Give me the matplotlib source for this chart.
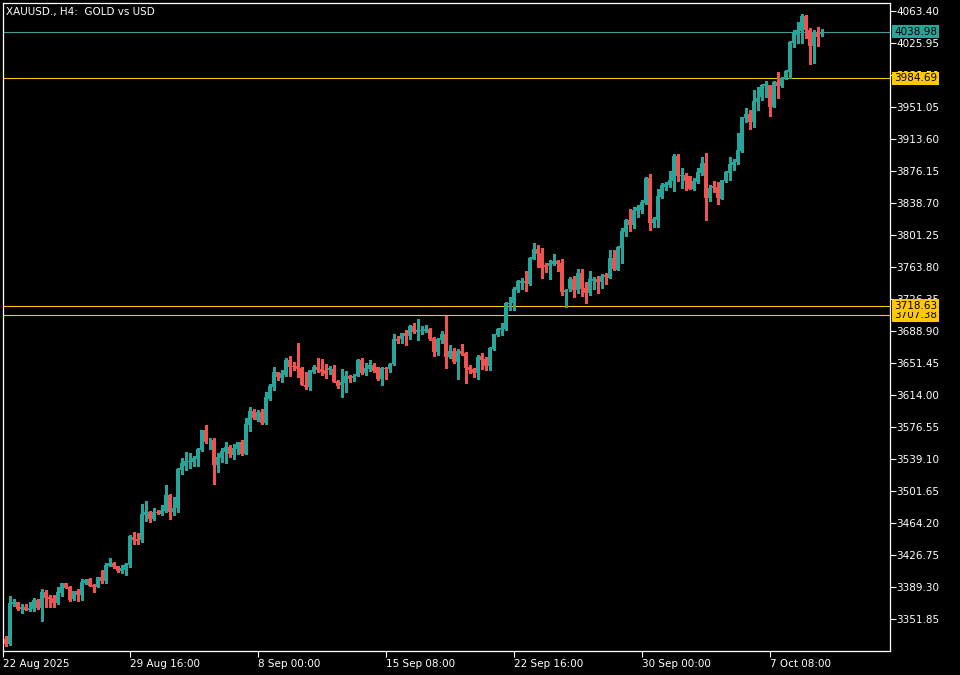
import matplotlib
matplotlib.use("Agg")
import matplotlib.pyplot as plt
import matplotlib.transforms as mtransforms
import numpy as np

BG = "#000000"
FG = "#ffffff"
BULL = "#26a69a"
BEAR = "#ef5350"
GOLD = "#ffc800"
BID_LINE = "#3f9d96"

# XAUUSD H4 candles, 22 Aug 2025 12:00 -> 9 Oct 2025
opens = [
    3328.5, 3322.6, 3369.1, 3371.4, 3364.0, 3366.3, 3362.4, 3363.6, 3374.5, 3365.2,
    3383.9, 3377.6, 3376.5, 3370.6, 3381.9, 3393.6, 3389.7, 3374.9, 3385.0, 3380.0,
    3394.0, 3398.7, 3391.3, 3389.3, 3401.0, 3396.4, 3414.3, 3417.8, 3413.9, 3408.5,
    3409.2, 3415.1, 3448.2, 3445.5, 3444.0, 3473.6, 3477.1, 3468.9, 3477.5, 3474.8,
    3478.3, 3497.4, 3477.5, 3481.8, 3526.7, 3530.9, 3536.0, 3535.6, 3539.1, 3549.7,
    3573.1, 3561.0, 3561.4, 3532.1, 3540.3, 3547.3, 3553.2, 3544.2, 3551.2, 3559.0,
    3545.0, 3578.9, 3594.9, 3584.8, 3594.2, 3580.9, 3609.0, 3623.8, 3641.0, 3634.3,
    3637.4, 3655.0, 3648.0, 3648.0, 3646.0, 3626.1, 3623.0, 3641.3, 3647.2, 3644.1,
    3643.3, 3643.3, 3644.1, 3630.4, 3625.7, 3628.5, 3636.6, 3633.5, 3636.3, 3655.0,
    3639.4, 3644.5, 3649.1, 3646.4, 3632.7, 3646.0, 3644.5, 3649.9, 3680.0, 3679.5,
    3686.6, 3683.4, 3694.8, 3688.1, 3688.9, 3688.9, 3691.2, 3680.7, 3664.3, 3678.4,
    3685.4, 3658.9, 3665.9, 3653.0, 3665.9, 3663.2, 3647.2, 3644.4, 3640.1, 3659.6,
    3656.1, 3647.9, 3667.8, 3684.6, 3690.1, 3691.2, 3720.1, 3722.1, 3737.3, 3745.5,
    3747.9, 3744.0, 3773.2, 3784.9, 3780.6, 3766.2, 3765.0, 3767.0, 3770.9, 3768.9,
    3734.2, 3738.1, 3749.8, 3737.0, 3756.5, 3739.7, 3733.1, 3747.5, 3749.4, 3746.7,
    3754.5, 3751.4, 3774.8, 3760.4, 3786.5, 3805.2, 3818.9, 3813.0, 3829.8, 3830.6,
    3838.4, 3867.6, 3815.7, 3818.9, 3846.2, 3857.1, 3859.8, 3864.9, 3893.7, 3870.3,
    3871.5, 3870.3, 3855.1, 3863.7, 3874.2, 3885.9, 3845.0, 3859.0, 3857.9, 3843.4,
    3864.9, 3874.2, 3883.2, 3887.1, 3900.0, 3938.6, 3942.5, 3933.9, 3957.0, 3963.2,
    3975.6, 3976.8, 3951.5, 3980.7, 3976.0, 3983.8, 3992.4, 4026.4, 4035.3, 4040.4,
    4058.0, 4041.2, 4022.9, 4039.2, 4037.0,
]
highs = [
    3332.0, 3378.8, 3374.9, 3372.0, 3369.5, 3369.5, 3371.8, 3376.0, 3375.3, 3387.0,
    3385.8, 3380.0, 3380.0, 3388.9, 3394.4, 3394.0, 3390.5, 3384.8, 3386.6, 3398.7,
    3399.1, 3399.5, 3392.8, 3401.0, 3409.2, 3417.0, 3423.3, 3419.0, 3414.2, 3414.7,
    3417.8, 3450.6, 3453.3, 3452.9, 3486.5, 3490.0, 3478.0, 3481.8, 3479.5, 3485.3,
    3508.7, 3498.6, 3494.7, 3528.6, 3539.9, 3547.3, 3546.2, 3542.7, 3552.4, 3573.5,
    3578.9, 3564.1, 3563.7, 3545.8, 3552.0, 3559.0, 3555.5, 3556.7, 3559.4, 3561.4,
    3587.1, 3600.0, 3597.7, 3596.9, 3597.7, 3617.9, 3626.9, 3647.2, 3641.3, 3643.3,
    3656.9, 3659.7, 3653.0, 3675.3, 3646.8, 3641.3, 3643.7, 3649.1, 3657.7, 3656.2,
    3650.3, 3648.4, 3649.1, 3631.6, 3644.1, 3642.1, 3637.4, 3638.6, 3655.8, 3657.7,
    3651.9, 3655.0, 3651.9, 3647.2, 3647.2, 3647.2, 3651.9, 3685.4, 3683.5, 3687.0,
    3690.1, 3695.9, 3698.7, 3703.0, 3694.8, 3695.9, 3692.0, 3682.3, 3681.1, 3689.3,
    3706.9, 3672.5, 3669.4, 3667.5, 3673.7, 3664.7, 3649.1, 3645.2, 3660.4, 3662.8,
    3658.1, 3669.8, 3685.8, 3692.0, 3697.9, 3723.2, 3729.1, 3740.8, 3748.6, 3751.4,
    3759.2, 3776.0, 3792.3, 3789.6, 3786.5, 3768.9, 3772.1, 3779.1, 3772.1, 3773.2,
    3738.1, 3752.6, 3753.3, 3761.1, 3761.1, 3745.9, 3759.2, 3752.6, 3753.3, 3755.3,
    3757.2, 3783.8, 3783.8, 3788.4, 3809.9, 3820.0, 3831.7, 3834.5, 3836.4, 3842.3,
    3868.8, 3872.3, 3822.7, 3855.1, 3861.8, 3863.7, 3876.2, 3895.7, 3896.1, 3880.1,
    3873.5, 3870.7, 3867.6, 3880.1, 3892.2, 3896.9, 3859.8, 3864.5, 3862.9, 3866.1,
    3875.8, 3892.2, 3889.8, 3921.1, 3939.8, 3949.5, 3947.6, 3971.0, 3975.0, 3978.0,
    3981.9, 3977.2, 3981.1, 3992.4, 3985.8, 3994.0, 4028.3, 4041.2, 4050.9, 4059.5,
    4058.7, 4043.1, 4041.2, 4044.3, 4042.4,
]
lows = [
    3320.7, 3321.0, 3367.1, 3362.4, 3359.3, 3362.0, 3361.2, 3361.2, 3363.6, 3349.9,
    3366.3, 3366.3, 3366.3, 3369.8, 3378.8, 3388.0, 3373.3, 3374.1, 3373.3, 3374.1,
    3392.8, 3390.7, 3383.9, 3389.0, 3393.6, 3393.6, 3414.0, 3411.2, 3406.5, 3405.7,
    3403.8, 3413.2, 3440.0, 3439.6, 3442.0, 3467.0, 3465.8, 3468.1, 3474.8, 3473.6,
    3477.5, 3469.3, 3474.0, 3477.5, 3522.0, 3526.3, 3528.2, 3530.9, 3530.9, 3548.5,
    3557.5, 3551.2, 3509.9, 3523.9, 3535.2, 3534.5, 3541.5, 3539.1, 3545.0, 3543.4,
    3544.6, 3572.3, 3586.0, 3584.0, 3580.5, 3580.1, 3608.2, 3619.9, 3631.6, 3628.8,
    3636.6, 3636.6, 3643.3, 3635.5, 3625.3, 3621.0, 3619.9, 3639.4, 3640.5, 3637.4,
    3633.5, 3638.2, 3629.2, 3621.8, 3612.1, 3617.9, 3628.8, 3630.4, 3635.9, 3638.6,
    3637.4, 3642.1, 3640.5, 3631.6, 3625.7, 3632.7, 3641.3, 3649.1, 3674.5, 3675.3,
    3672.5, 3679.5, 3686.2, 3678.4, 3685.4, 3687.7, 3678.4, 3660.0, 3660.8, 3675.3,
    3646.0, 3656.9, 3651.5, 3633.1, 3660.8, 3627.7, 3640.1, 3634.7, 3632.3, 3644.4,
    3643.3, 3643.3, 3666.7, 3683.4, 3684.2, 3690.1, 3713.5, 3713.5, 3734.9, 3738.1,
    3736.2, 3742.8, 3772.8, 3764.3, 3751.4, 3758.4, 3749.8, 3766.2, 3759.6, 3731.1,
    3717.5, 3736.2, 3729.2, 3733.8, 3730.3, 3721.3, 3731.1, 3738.1, 3733.8, 3738.9,
    3744.0, 3751.0, 3760.4, 3760.0, 3768.2, 3800.5, 3806.4, 3809.1, 3822.8, 3826.6,
    3837.6, 3807.1, 3811.0, 3811.0, 3845.0, 3854.0, 3857.1, 3853.2, 3864.9, 3856.7,
    3854.0, 3854.7, 3854.0, 3861.8, 3871.5, 3818.9, 3841.1, 3852.0, 3837.6, 3843.0,
    3863.7, 3865.7, 3877.4, 3884.0, 3898.8, 3933.2, 3925.3, 3928.1, 3948.0, 3959.3,
    3963.2, 3940.9, 3950.7, 3962.0, 3974.1, 3983.5, 3984.6, 4021.7, 4026.4, 4026.4,
    4032.2, 4001.4, 4003.0, 4022.9, 4034.2,
]
closes = [
    3322.6, 3371.0, 3371.8, 3363.6, 3366.3, 3362.4, 3365.2, 3374.1, 3364.4, 3383.5,
    3376.9, 3375.3, 3371.0, 3383.5, 3394.0, 3388.2, 3374.1, 3384.6, 3380.0, 3395.2,
    3397.5, 3390.9, 3389.3, 3400.7, 3396.4, 3415.1, 3417.4, 3412.4, 3408.1, 3411.2,
    3416.2, 3449.0, 3444.3, 3443.6, 3474.8, 3477.1, 3468.9, 3477.1, 3476.0, 3479.5,
    3497.0, 3477.5, 3481.8, 3527.8, 3534.1, 3537.2, 3536.8, 3540.3, 3551.2, 3573.1,
    3559.0, 3561.8, 3532.1, 3541.1, 3548.9, 3553.2, 3545.0, 3552.0, 3559.0, 3545.0,
    3580.1, 3594.9, 3587.1, 3594.2, 3581.3, 3611.5, 3624.6, 3641.0, 3635.5, 3639.4,
    3655.0, 3647.2, 3646.4, 3644.5, 3625.7, 3623.0, 3643.3, 3647.2, 3643.3, 3641.3,
    3638.6, 3645.6, 3629.6, 3625.0, 3629.6, 3636.3, 3632.7, 3636.6, 3655.0, 3639.4,
    3645.2, 3649.1, 3642.1, 3632.4, 3646.0, 3644.5, 3650.3, 3679.6, 3677.6, 3686.6,
    3683.1, 3694.8, 3688.1, 3690.1, 3690.5, 3691.2, 3679.5, 3664.3, 3679.5, 3685.4,
    3658.9, 3665.9, 3653.0, 3665.9, 3662.0, 3646.0, 3643.3, 3640.1, 3658.9, 3655.0,
    3647.9, 3668.6, 3685.4, 3691.2, 3692.4, 3721.3, 3722.1, 3738.1, 3747.4, 3747.9,
    3744.8, 3774.8, 3784.9, 3779.1, 3763.1, 3763.9, 3768.9, 3770.9, 3767.4, 3734.2,
    3737.0, 3749.8, 3737.0, 3756.5, 3738.1, 3733.8, 3749.4, 3749.4, 3745.9, 3753.3,
    3751.8, 3774.8, 3761.1, 3787.7, 3806.4, 3818.9, 3813.0, 3830.6, 3834.5, 3840.3,
    3867.6, 3815.7, 3820.0, 3846.9, 3859.8, 3861.0, 3865.7, 3893.7, 3870.3, 3871.5,
    3864.9, 3855.1, 3864.9, 3875.4, 3885.9, 3845.0, 3856.7, 3856.7, 3844.2, 3865.7,
    3875.4, 3884.0, 3887.1, 3900.8, 3939.0, 3942.5, 3933.9, 3958.0, 3962.0, 3976.8,
    3978.0, 3951.5, 3980.7, 3976.0, 3984.6, 3993.6, 4027.5, 4037.3, 4041.2, 4058.0,
    4041.2, 4022.9, 4039.2, 4033.4, 4038.98,
]

price_ticks = [3351.85, 3389.30, 3426.75, 3464.20, 3501.65, 3539.10, 3576.55,
               3614.00, 3651.45, 3688.90, 3726.35, 3763.80, 3801.25, 3838.70,
               3876.15, 3913.60, 3951.05, 3988.50, 4025.95, 4063.40]
time_tick_bars = [-0.75, 31, 63, 95, 127, 159, 191]
time_tick_labels = ["22 Aug 2025", "29 Aug 16:00", "8 Sep 00:00", "15 Sep 08:00",
                    "22 Sep 16:00", "30 Sep 00:00", "7 Oct 08:00"]

bid_price = 4038.98
level_prices = [3984.69, 3707.38, 3718.63]

FONT = 7.5

fig = plt.figure(figsize=(9.6, 6.75), dpi=100, facecolor=BG)
ax = fig.add_axes([2.5 / 960, 24 / 675, 887 / 960, 648 / 675], facecolor=BG)

o = np.array(opens)
h = np.array(highs)
l = np.array(lows)
c = np.array(closes)
x = np.arange(len(o))
up = c >= o
colors = np.where(up, BULL, BEAR)

# wicks, then bodies (crisp, no antialiasing like the terminal)
ax.vlines(x, l, h, colors=colors, linewidth=0.9, zorder=3, antialiased=False)
body_lo = np.minimum(o, c)
body_h = np.maximum(np.abs(c - o), 0.9)
ax.bar(x, body_h, bottom=body_lo, width=0.78, color=colors, linewidth=0,
       zorder=4, antialiased=False)

# bid line and horizontal levels
ax.axhline(bid_price, color=BID_LINE, linewidth=0.8, zorder=2)
for p in level_prices:
    ax.axhline(p, color=GOLD, linewidth=0.8, zorder=2)

ax.set_xlim(-0.875, 220.875)
ax.set_ylim(3314.45, 4072.8)

for s in ax.spines.values():
    s.set_color(FG)
    s.set_linewidth(0.9)

ax.yaxis.tick_right()
ax.set_yticks(price_ticks)
ax.set_yticklabels([f"{v:.2f}" for v in price_ticks])
ax.tick_params(axis="y", colors=FG, labelcolor=FG, labelsize=FONT,
               direction="out", length=4, width=0.8, pad=1)
ax.set_xticks(time_tick_bars)
ax.set_xticklabels(time_tick_labels)
ax.tick_params(axis="x", colors=FG, labelcolor=FG, labelsize=FONT,
               direction="out", length=4, width=0.8, pad=2)
for t in ax.get_xticklabels():
    t.set_horizontalalignment("left")

# price tags on the right scale
trans = mtransforms.blended_transform_factory(ax.transAxes, ax.transData)
tag_x = 1.0 + 4.5 / 887
for p in level_prices:
    ax.text(tag_x, p, f"{p:.2f}", transform=trans, ha="left", va="center",
            fontsize=FONT, color="black", clip_on=False, zorder=10,
            bbox=dict(boxstyle="square,pad=0.15", fc=GOLD, ec="none"))
ax.text(tag_x, bid_price, f"{bid_price:.2f}", transform=trans, ha="left",
        va="center", fontsize=FONT, color="black", clip_on=False, zorder=10,
        bbox=dict(boxstyle="square,pad=0.15", fc=BULL, ec="none"))

fig.text(6 / 960, 1 - 11.5 / 675, "XAUUSD., H4:  GOLD vs USD", ha="left",
         va="center", fontsize=FONT, color=FG)

fig.savefig("out.png", dpi=100, facecolor=BG)
